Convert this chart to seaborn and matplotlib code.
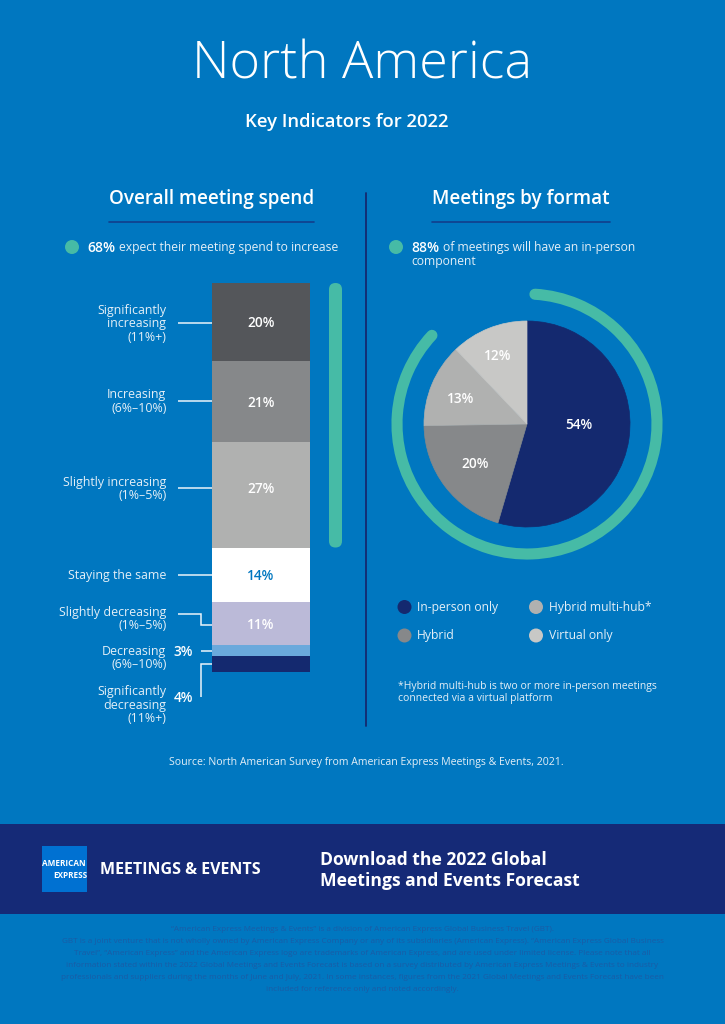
import pandas as pd
import matplotlib
matplotlib.use('Agg')
import matplotlib.pyplot as plt
import seaborn as sns
from matplotlib.patches import Arc, Circle, FancyBboxPatch, Rectangle

W, H = 725, 1024
BG = '#0077C0'
NAVY = '#14296F'
TEAL = '#46BBA6'
TXT = '#E4EFF7'

# overall meeting spend
spend_cats = ['Significantly increasing', 'Increasing', 'Slightly increasing', 'Staying the same',
              'Slightly decreasing', 'Decreasing', 'Significantly decreasing']
spend_vals = [20, 21, 27, 14, 11, 3, 4]
spend_colors = ['#54565A', '#86888A', '#B0B1B0', '#FFFFFF', '#BBBAD8', '#6AA9DC', NAVY]
spend_share = 68

# meetings by format
fmt_cats = ['In-person only', 'Hybrid', 'Hybrid multi-hub*', 'Virtual only']
fmt_vals = [54, 20, 13, 12]
fmt_colors = [NAVY, '#86888A', '#B0B1B0', '#C8C8C6']
fmt_share = 88

fine_print = [
    '\u201cAmerican Express Meetings & Events\u201d is a division of American Express Global Business Travel (GBT).',
    'GBT is a joint venture that is not wholly owned by American Express Company or any of its subsidiaries (American Express). \u201cAmerican Express Global Business',
    'Travel\u201d, \u201cAmerican Express\u201d and the American Express logo are trademarks of American Express, and are used under limited license. Please note that all',
    'information stated within the 2022 Global Meetings and Events Forecast is based on a survey distributed by American Express Meetings & Events to industry',
    'professionals and suppliers during the months of June and July, 2021. In some instances, figures from the 2021 Global Meetings and Events Forecast have been',
    'included for reference only and noted accordingly.',
]

sns.set_theme(style='white')
plt.rcParams['font.family'] = ['Open Sans', 'DejaVu Sans']

fig = plt.figure(figsize=(W / 100, H / 100), dpi=100, facecolor=BG)


def px_axes(x0, y0, x1, y1):
    a = fig.add_axes([x0 / W, 1 - y1 / H, (x1 - x0) / W, (y1 - y0) / H])
    a.patch.set_alpha(0)
    return a


# page layer in pixel coordinates
page = fig.add_axes([0, 0, 1, 1])
page.set_xlim(0, W)
page.set_ylim(H, 0)
page.axis('off')


def txt(x, y, s, size=8.9, color=TXT, ha='left', weight='normal', **kw):
    return page.text(x, y, s, fontsize=size, color=color, ha=ha, va='center', fontweight=weight, **kw)


def leader(xs, ys, lw=1.1):
    page.plot(xs, ys, color='#EAF3FA', lw=lw, solid_capstyle='butt', solid_joinstyle='miter')


txt(362.5, 65, 'North America', size=37.5, color='white', ha='center', weight='light')
txt(347, 122, 'Key Indicators for 2022', size=13.3, color='white', ha='center', weight='semibold')

txt(211.5, 199, 'Overall meeting spend', size=13.6, color='white', ha='center', weight='semibold')
txt(521, 199, 'Meetings by format', size=13.6, color='white', ha='center', weight='semibold')
page.plot([109, 314], [221.5, 221.5], color='#123E8C', lw=1.2)
page.plot([432, 610], [221.5, 221.5], color='#123E8C', lw=1.2)
page.plot([366, 366], [193, 726], color=NAVY, lw=1.3)

# bullets with a bold lead-in
renderer = fig.canvas.get_renderer()
for cx, head, rest in [(72, '68%', 'expect their meeting spend to increase'),
                       (396, '88%', 'of meetings will have an in-person')]:
    page.add_patch(Circle((cx, 247), 7, color=TEAL, lw=0))
    t = txt(cx + 15, 247.5, head, size=10, color='white', weight='semibold')
    txt(t.get_window_extent(renderer).x1 + 4, 247.5, rest, size=8.7)
txt(411, 261, 'component', size=8.7)

# stacked bar
df = pd.DataFrame({'col': ['spend'] * len(spend_vals), 'cat': spend_cats, 'val': spend_vals})
BAR_TOP, BAR_BOTTOM = 283, 672
ax = px_axes(212, BAR_TOP, 310, BAR_BOTTOM)
sns.histplot(data=df, x='col', weights='val', hue='cat', hue_order=spend_cats, multiple='stack',
             discrete=True, shrink=1, palette=dict(zip(spend_cats, spend_colors)),
             alpha=1, linewidth=0, legend=False, ax=ax)
ax.set_xlim(-0.5, 0.5)
ax.set_ylim(0, sum(spend_vals))
ax.axis('off')

# the 27% label sits above the middle of its segment in the original
label_shift = {27: 1.8}
top = sum(spend_vals)
for v, c in zip(spend_vals, spend_colors):
    mid = top - v / 2 + label_shift.get(v, 0) - 0.35
    top -= v
    if v > 5:
        col = BG if c == '#FFFFFF' else 'white'
        ax.text(0, mid, f'{v}%', ha='center', va='center', fontsize=9.8, color=col, fontweight='semibold')

# teal bracket showing the increase share
bracket_h = spend_share / sum(spend_vals) * (BAR_BOTTOM - BAR_TOP)
page.add_patch(FancyBboxPatch((329, BAR_TOP), 13, bracket_h, boxstyle='round,pad=0,rounding_size=6.5',
                              fc=TEAL, ec='none'))

# left labels
for y, lines in [(324, ['Significantly', 'increasing', '(11%+)']),
                 (401.5, ['Increasing', '(6%\u201310%)']),
                 (489, ['Slightly increasing', '(1%\u20135%)']),
                 (575.5, ['Staying the same']),
                 (619, ['Slightly decreasing', '(1%\u20135%)']),
                 (658, ['Decreasing', '(6%\u201310%)']),
                 (705, ['Significantly', 'decreasing', '(11%+)'])]:
    start = y - (len(lines) - 1) * 6.9
    for i, line in enumerate(lines):
        txt(166.5, start + i * 13.8, line, ha='right')

leader([178, 212], [323, 323])
leader([178, 212], [401, 401])
leader([178, 212], [488, 488])
leader([178, 212], [575, 575])
leader([178, 201, 201, 212], [613.5, 613.5, 625, 625])
leader([201, 212], [651, 651])
leader([201, 201, 212], [696.5, 664, 664])
txt(183, 652, f'{spend_vals[5]}%', size=9.8, color='white', ha='center', weight='semibold')
txt(183, 697.5, f'{spend_vals[6]}%', size=9.8, color='white', ha='center', weight='semibold')

# pie and ring
ax2 = px_axes(387, 284, 667, 564)
wedges, _ = ax2.pie(fmt_vals, colors=fmt_colors, startangle=90, counterclock=False, radius=103,
                    wedgeprops={'linewidth': 0})
# close the hairline seams between slices
for w, c in zip(wedges, fmt_colors):
    w.set_edgecolor(c)
    w.set_linewidth(0.5)
# label offsets from the centre, as placed in the original
label_xy = [(52, -1), (-52, -40), (-66, 25), (-29, 68)]
for v, (lx, ly) in zip(fmt_vals, label_xy):
    ax2.text(lx, ly, f'{v}%', ha='center', va='center', fontsize=9.8, color='white', fontweight='semibold')
ring_start = 86.5
ring_span = fmt_share * 3.6 - 7.3
ax2.add_patch(Arc((0, 0), 260, 260, theta1=ring_start - ring_span, theta2=ring_start, lw=8,
                  color=TEAL, capstyle='round'))
ax2.set_xlim(-140, 140)
ax2.set_ylim(-140, 140)
ax2.set_aspect('equal')
ax2.axis('off')

# pie legend
for (cx, cy), name, c in zip([(404.5, 607), (404.5, 635.5), (536, 607), (536, 635.5)], fmt_cats, fmt_colors):
    page.add_patch(Circle((cx, cy), 7, color=c, lw=0))
    txt(cx + 12.8, cy + 0.5, name, size=8.7)

txt(398, 686, '*Hybrid multi-hub is two or more in-person meetings', size=7.5)
txt(398, 699, 'connected via a virtual platform', size=7.5)
txt(366.5, 762, 'Source: North American Survey from American Express Meetings & Events, 2021.', size=7.6, ha='center')

# footer band
page.add_patch(Rectangle((0, 823.5), W, 90.5, color='#152A77', lw=0))
page.add_patch(Rectangle((42.5, 846), 45, 46, color='#0071D2', lw=0))
txt(64, 864, 'AMERICAN', size=5.9, color='white', ha='center', weight='bold')
txt(87.5, 875.5, 'EXPRESS', size=5.9, color='white', ha='right', weight='bold')
txt(100, 870, 'MEETINGS & EVENTS', size=11.5, color='white', weight='bold')
txt(320, 860, 'Download the 2022 Global', size=12.6, color='white', weight='bold')
txt(320, 881, 'Meetings and Events Forecast', size=12.6, color='white', weight='bold')

for i, line in enumerate(fine_print):
    txt(362.5, 929.5 + i * 12, line, size=5.85, color='#1A5CA6', ha='center')

fig.savefig('out.png', dpi=100, facecolor=BG)
